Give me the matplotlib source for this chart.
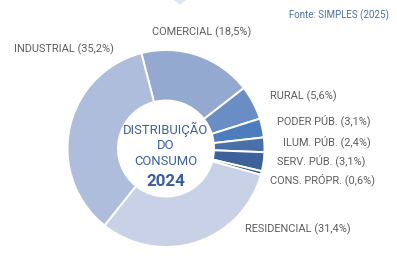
import matplotlib
matplotlib.use("Agg")
import matplotlib.pyplot as plt
from matplotlib.patches import Polygon

W, H = 397, 261

categories = ["COMERCIAL", "RURAL", "PODER PÚB.", "ILUM. PÚB.", "SERV. PÚB.",
              "CONS. PRÓPR.", "RESIDENCIAL", "INDUSTRIAL"]
values = [18.5, 5.6, 3.1, 2.4, 3.1, 0.6, 31.4, 35.2]
colors = ["#93A9D0", "#6A8DC4", "#4D7DBE", "#4A70A9", "#3D6299", "#2F5690",
          "#C8D1E6", "#AEBDDB"]
value_labels = ["18,5%", "5,6%", "3,1%", "2,4%", "3,1%", "0,6%", "31,4%", "35,2%"]

# label anchor positions (left x, center y) in image pixels
label_pos = [(152, 32), (270, 96), (277, 121), (283, 142), (277, 161),
             (270, 180), (245, 229), (14, 49)]

fig = plt.figure(figsize=(W / 100, H / 100), dpi=100)
ax = fig.add_axes([0, 0, 1, 1])

cx, cy_img, R, r_in = 166, 148.5, 98.5, 48
cy = H - cy_img

ax.pie(values, colors=colors, startangle=104.5, counterclock=False,
       center=(cx, cy), radius=R, frame=True,
       wedgeprops=dict(width=R - r_in, edgecolor="white", linewidth=1.4))
ax.set_xlim(0, W)
ax.set_ylim(0, H)
ax.set_aspect("equal")
ax.axis("off")

for cat, lab, (lx, ly) in zip(categories, value_labels, label_pos):
    ax.text(lx, H - ly, f"{cat} ({lab})", ha="left", va="center",
            fontsize=7.9, color="#5E5E5E", family="Roboto")

blue = "#3A5F9B"
for txt, y in [("DISTRIBUIÇÃO", 129), ("DO", 145.5), ("CONSUMO", 161.5)]:
    ax.text(cx, H - y, txt, ha="center", va="center", fontsize=9.4,
            color=blue, family="Roboto")
ax.text(cx, H - 182, "2024", ha="center", va="center", fontsize=12.2,
        color=blue, family="Roboto", fontweight="bold")

ax.text(389, H - 15, "Fonte: SIMPLES (2025)", ha="right", va="center",
        fontsize=7.0, color="#4A6FA5", family="Roboto")

tri = Polygon([(174, H), (186, H), (180, H - 5)], closed=True,
              facecolor="#DCE6F2", edgecolor="none")
ax.add_patch(tri)

fig.savefig("out.png", dpi=100, facecolor="white")
